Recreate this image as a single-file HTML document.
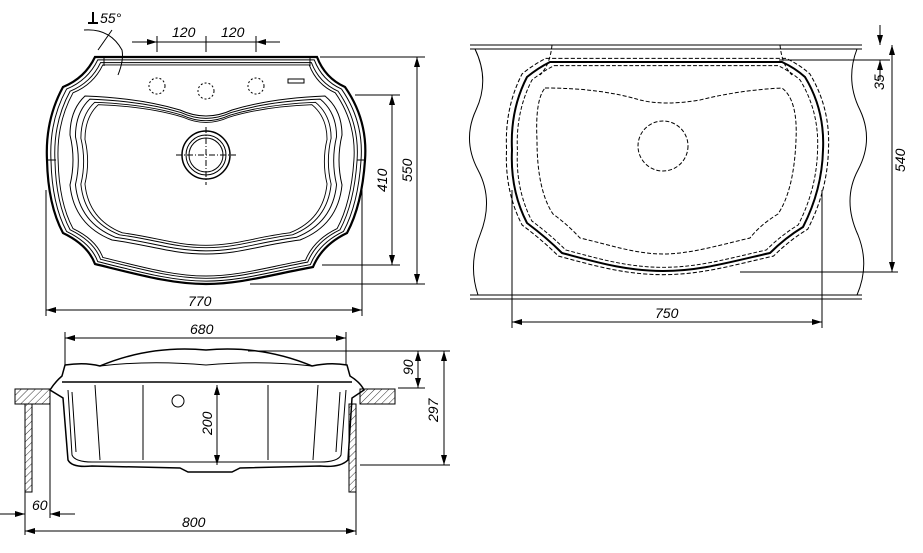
<!DOCTYPE html>
<html><head><meta charset="utf-8"><style>
html,body{margin:0;padding:0;background:#fff;}
svg{display:block;}
text{font-family:"Liberation Sans",sans-serif;font-style:italic;font-size:14px;fill:#000;}
</style></head><body>
<svg width="923" height="553" viewBox="0 0 923 553" xmlns="http://www.w3.org/2000/svg">
<defs>
<marker id="a" viewBox="0 0 10 6" refX="10" refY="3" markerWidth="10" markerHeight="6" orient="auto-start-reverse"><path d="M0,0L10,3L0,6z" fill="#000"/></marker>
<pattern id="h" width="5" height="5" patternUnits="userSpaceOnUse" patternTransform="rotate(45)"><line x1="0" y1="0" x2="0" y2="5" stroke="#000" stroke-width="0.8"/></pattern>
<path id="so" d="M95,57 L317,57 Q325,78 345,87 Q368,120 365,160 Q362,205 347,233 Q322,245 313,267 C270,275 240,284 206,284 C172,284 140,275 95,264 Q88,245 63,233 Q48,205 47,160 Q45,120 63,87 Q85,78 95,57 Z"/>
<path id="bw" d="M85,96 Q140,98 180,110 Q206,122 232,110 Q272,98 325,96 Q342,110 342,135 Q336,160 342,185 Q338,225 300,240 C260,245 240,254 206,254 C172,254 150,245 112,240 Q74,225 70,185 Q76,160 70,135 Q70,110 85,96 Z"/>
<path id="co" d="M550,62 L782,62 Q795,68 805,77 Q825,110 823,150 Q822,190 803,227 Q785,238 770,253 C730,262 700,271 663,271 C626,271 596,262 562,253 Q547,238 527,223 Q510,190 512,150 Q510,110 527,77 Q538,68 550,62 Z"/>
</defs>
<g fill="none" stroke="#000" stroke-width="1">
<use href="#so" stroke-width="2.2"/>
<use href="#so" transform="translate(206,170) scale(0.975) translate(-206,-170)"/>
<use href="#so" transform="translate(206,170) scale(0.95) translate(-206,-170)"/>
<use href="#so" transform="translate(206,170) scale(0.93) translate(-206,-170)"/>
<line x1="104" y1="66" x2="104" y2="57"/><line x1="310" y1="66" x2="310" y2="57"/>
<line x1="48" y1="160" x2="56" y2="160"/><line x1="357" y1="160" x2="365" y2="160"/>
<use href="#bw"/>
<use href="#bw" transform="translate(206,175) scale(0.96) translate(-206,-175)"/>
<use href="#bw" transform="translate(206,175) scale(0.92) translate(-206,-175)"/>
<use href="#bw" transform="translate(206,175) scale(0.89) translate(-206,-175)"/>
<circle cx="206" cy="155" r="24" stroke-width="1.5"/><circle cx="206" cy="155" r="20"/><circle cx="206" cy="155" r="17"/>
<line x1="206" y1="127" x2="206" y2="185" stroke-dasharray="6,2,1,2"/><line x1="176" y1="155" x2="236" y2="155" stroke-dasharray="6,2,1,2"/>
<circle cx="157" cy="86" r="8" stroke-dasharray="2,2"/><circle cx="206" cy="91" r="8" stroke-dasharray="2,2"/><circle cx="256" cy="86" r="8" stroke-dasharray="2,2"/>
<rect x="288" y="79" width="16" height="4"/>
<line x1="157" y1="36" x2="157" y2="52"/><line x1="206" y1="36" x2="206" y2="52"/><line x1="256" y1="36" x2="256" y2="52"/>
<line x1="132" y1="42" x2="157" y2="42" marker-end="url(#a)"/><line x1="157" y1="42" x2="256" y2="42"/><line x1="280" y1="42" x2="256" y2="42" marker-end="url(#a)"/>
<path d="M84,30 Q110,28 122,50 Q124,60 118,75" /><line x1="98" y1="50" x2="112" y2="30"/>
<line x1="320" y1="57" x2="425" y2="57"/><line x1="355" y1="95" x2="400" y2="95"/><line x1="322" y1="265" x2="400" y2="265"/><line x1="250" y1="284" x2="425" y2="284"/>
<line x1="417" y1="57" x2="417" y2="284" marker-start="url(#a)" marker-end="url(#a)"/>
<line x1="392" y1="95" x2="392" y2="265" marker-start="url(#a)" marker-end="url(#a)"/>
<line x1="46" y1="190" x2="46" y2="316"/><line x1="362" y1="190" x2="362" y2="316"/>
<line x1="46" y1="310" x2="362" y2="310" marker-start="url(#a)" marker-end="url(#a)"/>
<line x1="470" y1="45" x2="862" y2="45"/><line x1="470" y1="49" x2="862" y2="49"/>
<line x1="470" y1="295" x2="862" y2="295"/><line x1="470" y1="299" x2="862" y2="299"/>
<path d="M475,49 Q490,80 476,110 Q462,140 478,170 Q494,200 480,235 Q468,265 478,295"/>
<path d="M857,49 Q845,80 860,110 Q874,140 858,170 Q842,200 858,235 Q870,265 857,295"/>
<use href="#co" stroke-width="2"/>
<use href="#co" stroke-dasharray="4,2" transform="translate(667,166) scale(1.035) translate(-667,-166)"/>
<use href="#co" stroke-dasharray="4,2" transform="translate(667,166) scale(0.965) translate(-667,-166)"/>
<path d="M545,88 Q600,88 640,100 Q665,106 700,100 Q740,90 782,88 Q798,100 796,140 Q794,190 778,214 Q760,225 750,238 C720,245 690,254 663,254 C636,254 610,245 580,238 Q568,225 553,214 Q537,190 537,140 Q535,100 545,88 Z" stroke-dasharray="4,2"/>
<path d="M552,45 Q550,65 540,75" stroke-dasharray="4,2"/><path d="M780,45 Q782,65 792,75" stroke-dasharray="4,2"/>
<circle cx="663" cy="146" r="25" stroke-dasharray="4,2"/>
<line x1="779" y1="60" x2="890" y2="60"/><line x1="740" y1="272" x2="898" y2="272"/>
<line x1="880" y1="25" x2="880" y2="45" marker-end="url(#a)"/><line x1="880" y1="80" x2="880" y2="60" marker-end="url(#a)"/>
<line x1="892" y1="45" x2="892" y2="272" marker-start="url(#a)" marker-end="url(#a)"/>
<line x1="512" y1="190" x2="512" y2="328"/><line x1="822" y1="190" x2="822" y2="328"/>
<line x1="512" y1="322" x2="822" y2="322" marker-start="url(#a)" marker-end="url(#a)"/>
<rect x="15" y="389" width="35" height="15" fill="url(#h)"/>
<rect x="360" y="389" width="35" height="15" fill="url(#h)"/>
<rect x="25" y="404" width="7" height="88" fill="url(#h)"/>
<rect x="349" y="404" width="7" height="88" fill="url(#h)"/>
<line x1="50" y1="389" x2="50" y2="404"/><line x1="360" y1="389" x2="360" y2="404"/>
<path d="M65,365 Q85,362 100,366 Q150,345 206,350 Q262,345 312,366 Q330,362 347,365 L350,376 Q360,382 364,390 L352,398 L348,460 Q340,468 320,466 L240,468 L232,472 L188,472 L180,468 L92,466 Q72,468 68,460 L63,398 L50,390 Q55,382 62,376 Z" stroke-width="1.5"/>
<path d="M100,366 Q150,360 206,365 Q262,360 312,366"/>
<line x1="62" y1="382" x2="352" y2="382" stroke-width="1.5"/>
<path d="M68,390 L72,455 Q75,462 92,462 L320,462 Q338,462 341,455 L346,390"/>
<path d="M72,392 L76,452"/><path d="M340,392 L336,452"/>
<line x1="95" y1="385" x2="100" y2="460"/><line x1="143" y1="385" x2="143" y2="460"/><line x1="268" y1="385" x2="268" y2="460"/><line x1="318" y1="385" x2="313" y2="460"/>
<circle cx="178" cy="401" r="6"/>
<line x1="65" y1="332" x2="65" y2="365"/><line x1="346" y1="332" x2="346" y2="365"/>
<line x1="65" y1="338" x2="346" y2="338" marker-start="url(#a)" marker-end="url(#a)"/>
<line x1="248" y1="351" x2="450" y2="351"/><line x1="398" y1="388" x2="425" y2="388"/><line x1="360" y1="465" x2="450" y2="465"/>
<line x1="418" y1="351" x2="418" y2="388" marker-start="url(#a)" marker-end="url(#a)"/>
<line x1="444" y1="351" x2="444" y2="465" marker-start="url(#a)" marker-end="url(#a)"/>
<line x1="217" y1="385" x2="217" y2="465" marker-start="url(#a)" marker-end="url(#a)"/>
<line x1="25" y1="492" x2="25" y2="535"/><line x1="50" y1="404" x2="50" y2="518"/><line x1="356" y1="492" x2="356" y2="535"/>
<line x1="0" y1="514" x2="25" y2="514" marker-end="url(#a)"/><line x1="75" y1="514" x2="50" y2="514" marker-end="url(#a)"/>
<line x1="25" y1="531" x2="356" y2="531" marker-start="url(#a)" marker-end="url(#a)"/>
</g>
<g fill="#000" stroke="none"><rect x="88" y="22" width="10" height="2"/><rect x="92" y="12" width="2" height="11"/></g>
<text x="100" y="23">55°</text>
<text x="172" y="37">120</text><text x="221" y="37">120</text>
<text x="188" y="306">770</text>
<text transform="translate(412,182) rotate(-90)">550</text>
<text transform="translate(387,192) rotate(-90)">410</text>
<text x="655" y="318">750</text>
<text transform="translate(884,90) rotate(-90)">35</text>
<text transform="translate(905,172) rotate(-90)">540</text>
<text x="190" y="334">680</text>
<text transform="translate(413,375) rotate(-90)">90</text>
<text transform="translate(438,422) rotate(-90)">297</text>
<text transform="translate(212,435) rotate(-90)">200</text>
<text x="32" y="510">60</text>
<text x="182" y="527">800</text>
</svg>
</body></html>
